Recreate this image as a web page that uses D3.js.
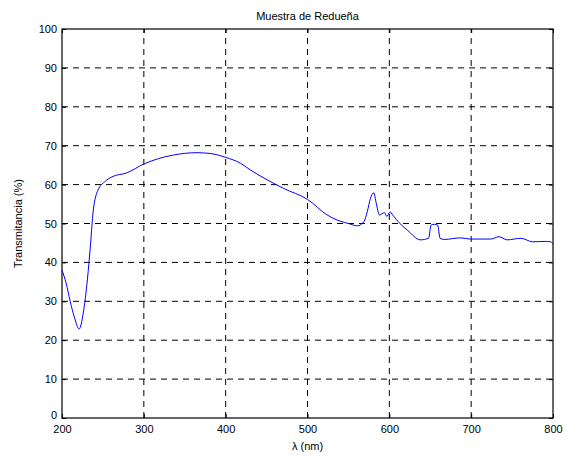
<!DOCTYPE html>
<html>
<head>
<meta charset="utf-8">
<script src="https://cdn.jsdelivr.net/npm/d3@7"></script>
<style>
  body { margin: 0; background: #fff; }
  text { font-family: "Liberation Sans", Arial, sans-serif; }
</style>
</head>
<body>
<div id="canvas"></div>
<script>
var w = 566;
var h = 456;
var margin = {top: 29, right: 13, bottom: 38, left: 62};

// wavelength (nm) and transmittance (%)
var lambda = [200, 205, 210, 215, 221, 226, 231, 235, 238, 244, 252, 261, 279, 300, 336, 365, 381,
              400, 418, 430, 471, 500, 524, 536, 540, 550, 561, 569, 573, 577, 581, 584, 588, 594,
              597, 601, 604, 612, 622, 638, 648, 651, 655, 659, 662, 667, 687, 699, 724, 734, 744,
              761, 775, 790, 797, 800];
var trans = [38, 34.7, 30, 26, 22.9, 27, 35.5, 45, 53, 58.6, 60.7, 62, 63, 65.3, 67.6, 68.2, 68,
             67, 65.5, 63.8, 59, 56.2, 52.2, 50.9, 50.6, 50, 49.4, 50.5, 53, 56.5, 57.9, 55.2, 52.2, 52.8,
             51.8, 53, 52.2, 50.2, 48.3, 45.8, 46.2, 49.6, 49.8, 49.6, 46.2, 45.9, 46.3, 46, 46, 46.6, 45.8,
             46.2, 45.3, 45.4, 45.3, 44.7];

var xTicks = [200, 300, 400, 500, 600, 700, 800];
var yTicks = [0, 10, 20, 30, 40, 50, 60, 70, 80, 90, 100];

var pts = lambda.map(function(d, i) { return {x: d, y: trans[i]}; });

var svg = d3.select("#canvas").append("svg")
  .attr("width", w)
  .attr("height", h);

var x = d3.scaleLinear().domain([200, 800]).range([margin.left, w - margin.right]);
var y = d3.scaleLinear().domain([0, 100]).range([h - margin.bottom, margin.top]);

// grid
svg.append("g").selectAll("line").data(xTicks.slice(1, -1)).enter().append("line")
  .attr("x1", d => x(d)).attr("x2", d => x(d))
  .attr("y1", y(0)).attr("y2", y(100))
  .attr("stroke", "#000").attr("stroke-width", 1)
  .attr("stroke-dasharray", "6,5");
svg.append("g").selectAll("line").data(yTicks.slice(1, -1)).enter().append("line")
  .attr("y1", d => y(d)).attr("y2", d => y(d))
  .attr("x1", x(200)).attr("x2", x(800))
  .attr("stroke", "#000").attr("stroke-width", 1)
  .attr("stroke-dasharray", "6,5");

// box
svg.append("rect")
  .attr("x", x(200)).attr("y", y(100))
  .attr("width", x(800) - x(200)).attr("height", y(0) - y(100))
  .attr("fill", "none").attr("stroke", "#000").attr("stroke-width", 1.2);

// axes, ticks inward
svg.append("g")
  .attr("transform", "translate(0," + y(0) + ")")
  .call(d3.axisBottom(x).tickValues(xTicks).tickSize(-4).tickPadding(7));
var yAxis = svg.append("g")
  .attr("transform", "translate(" + x(200) + ",0)")
  .call(d3.axisLeft(y).tickValues(yTicks).tickSize(-4).tickPadding(5));
svg.append("g")
  .attr("transform", "translate(0," + y(100) + ")")
  .call(d3.axisTop(x).tickValues(xTicks).tickSize(-4).tickFormat(""));
svg.append("g")
  .attr("transform", "translate(" + x(800) + ",0)")
  .call(d3.axisRight(y).tickValues(yTicks).tickSize(-4).tickFormat(""));

svg.selectAll(".domain").remove();
svg.selectAll(".tick text").attr("font-size", 11).attr("fill", "#000")
  .style("font-family", "'Liberation Sans', Arial, sans-serif");
svg.selectAll(".tick line").attr("stroke", "#000");

// lift the "0" label a little so it clears "200" below it
yAxis.selectAll(".tick text").filter(d => d === 0).attr("dy", "0.05em");

// curve
var line = d3.line()
  .x(d => x(d.x))
  .y(d => y(d.y))
  .curve(d3.curveMonotoneX);

svg.append("path")
  .datum(pts)
  .attr("d", line)
  .attr("fill", "none")
  .attr("stroke", "#0000ff")
  .attr("stroke-width", 1);

// titles
svg.append("text")
  .attr("x", (x(200) + x(800)) / 2).attr("y", 20)
  .attr("text-anchor", "middle").attr("font-size", 11)
  .text("Muestra de Redueña");

svg.append("text")
  .attr("x", (x(200) + x(800)) / 2).attr("y", 450)
  .attr("text-anchor", "middle").attr("font-size", 11)
  .text("λ (nm)");

svg.append("text")
  .attr("transform", "translate(22," + ((y(0) + y(100)) / 2) + ") rotate(-90)")
  .attr("text-anchor", "middle").attr("font-size", 11)
  .text("Transmitancia (%)");
</script>
</body>
</html>
